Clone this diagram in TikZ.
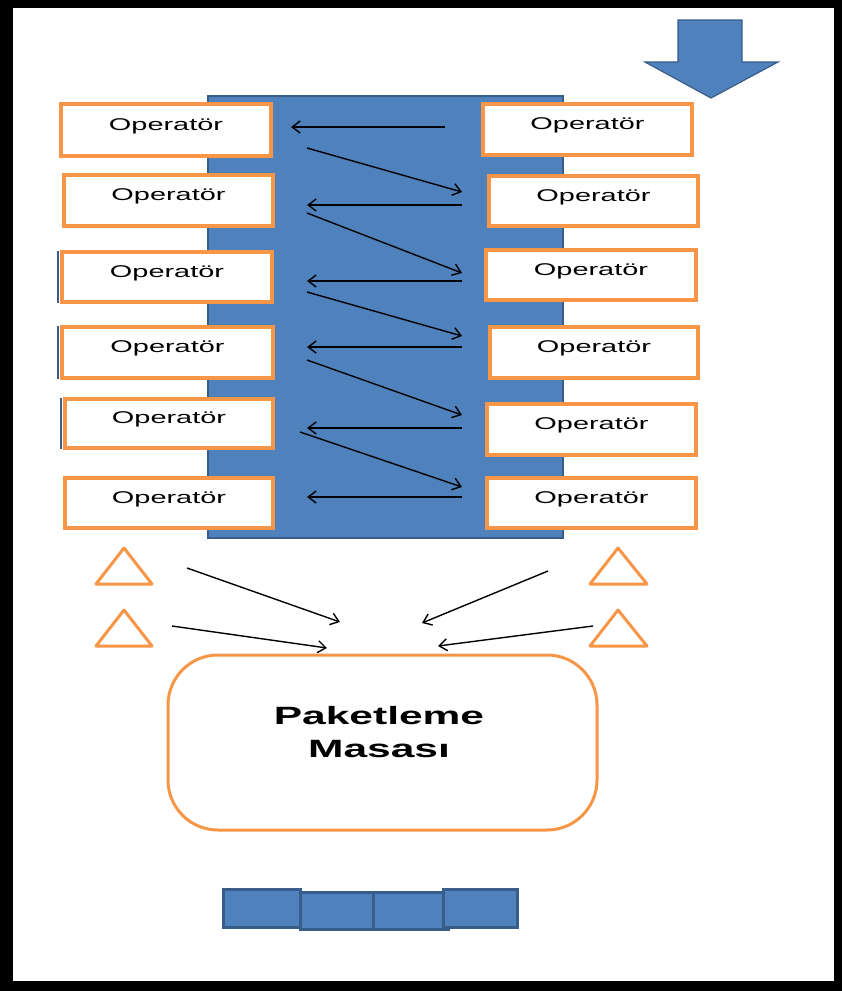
\documentclass[tikz,border=0pt]{standalone}
\usepackage{fontspec}
\newfontfamily\opfont[FakeStretch=1.7]{Liberation Sans}
\usetikzlibrary{arrows.meta}
\definecolor{fillblue}{HTML}{4F81BD}
\definecolor{edgeblue}{HTML}{385D8A}
\definecolor{lineorange}{HTML}{F79646}
\begin{document}
\begin{tikzpicture}[x=1pt,y=-1pt,
  opbox/.style={draw=lineorange, line width=3.5pt, fill=white, inner sep=0pt,
    font=\opfont\fontsize{17}{17}\selectfont, text height=10pt, text depth=10pt},
  flow/.style={-{Straight Barb[length=8pt,width=12pt]}, line width=1.4pt, black},
  bluebody/.style={fill=fillblue, draw=edgeblue, line width=2pt},
  tri/.style={draw=lineorange, line width=3pt, line join=round},
  block/.style={bluebody, line width=3pt, inner sep=0pt}]

% frame
\fill[black] (0,0) rectangle (842,991);
\fill[white] (13,8) rectangle (834,981);
\useasboundingbox (0,0) rectangle (842,991);

% incoming material arrow
\filldraw[bluebody, line width=1.2pt] (678,20) -- (742,20) -- (742,62) -- (778,62)
  -- (711,98) -- (645,62) -- (678,62) -- cycle;

% conveyor line
\node[bluebody, inner sep=0pt, minimum width=355, minimum height=442] (line) at (385.5,317) {};

% operator stations
\foreach \n/\xa/\ya/\xb/\yb in {L1/61/104/271/156, L2/64/175/273/226, L3/62/252/272/302,
  L4/62/327/273/378, L5/65/399/273/448, L6/65/478/273/528,
  R1/483/104/692/155, R2/489/176/698/226, R3/486/250/696/300,
  R4/490/327/698/378, R5/487/404/696/455, R6/487/478/696/528}
  \node[opbox, minimum width={\xb-\xa}, minimum height={\yb-\ya}] (\n)
    at ({(\xa+\xb)/2},{(\ya+\yb)/2}) {Operatör};

% shadow edges on some left stations
\foreach \n in {L3,L4,L5}
  \draw[edgeblue, line width=2pt] ([xshift=-2.5pt,yshift=-1pt]\n.north west) -- ([xshift=-2.5pt,yshift=1pt]\n.south west);

% horizontal transfers (right to left)
\foreach \i/\xs/\xe/\y in {1/445/291/127, 2/462/307/205, 3/462/307/281,
  4/462/307/347, 5/462/307/428, 6/462/307/497}{
  \coordinate (hs\i) at (\xs,\y);
  \coordinate (he\i) at (\xe,\y);
  \draw[flow] (hs\i) -- (he\i);
}

% diagonal transfers (left to right)
\foreach \i/\xs/\ys/\xe/\ye in {1/307/148/462/192, 2/307/213/462/273, 3/307/292/462/336,
  4/307/360/462/415, 5/300/432/462/487}{
  \coordinate (ds\i) at (\xs,\ys);
  \coordinate (de\i) at (\xe,\ye);
  \draw[flow] (ds\i) -- (de\i);
}

% stock triangles
\draw[tri] (124,548) -- (152,584) -- (96,584) -- cycle;
\draw[tri] (124,610) -- (152,646) -- (96,646) -- cycle;
\draw[tri] (618,548) -- (647,584) -- (590,584) -- cycle;
\draw[tri] (618,610) -- (647,646) -- (590,646) -- cycle;

% packing table
\node[draw=lineorange, line width=3pt, rounded corners=50pt, minimum width=429,
  minimum height=175, inner sep=0pt] (table) at (382.5,742.5) {};
\node[font=\opfont\bfseries\fontsize{25}{33}\selectfont, align=center] (tabletext)
  at (379,732) {Paketleme\\Masası};

% feeds to the table
\coordinate (t1s) at (187,568); \coordinate (t1e) at (340,622);
\coordinate (t2s) at (172,626); \coordinate (t2e) at (327,648);
\coordinate (t3s) at (548,571); \coordinate (t3e) at (422,623);
\coordinate (t4s) at (593,626); \coordinate (t4e) at (438,646);
\draw[flow] (t1s) -- (t1e);
\draw[flow] (t2s) -- (t2e);
\draw[flow] (t3s) -- (t3e);
\draw[flow] (t4s) -- (t4e);

% boxes at the end
\node[block, minimum width=77, minimum height=38] (b1) at (261.5,908) {};
\node[block, minimum width=73, minimum height=37] (b2) at (336.5,910.5) {};
\node[block, minimum width=75, minimum height=37] (b3) at (410.5,910.5) {};
\node[block, minimum width=74, minimum height=38] (b4) at (480,908) {};
\end{tikzpicture}
\end{document}
